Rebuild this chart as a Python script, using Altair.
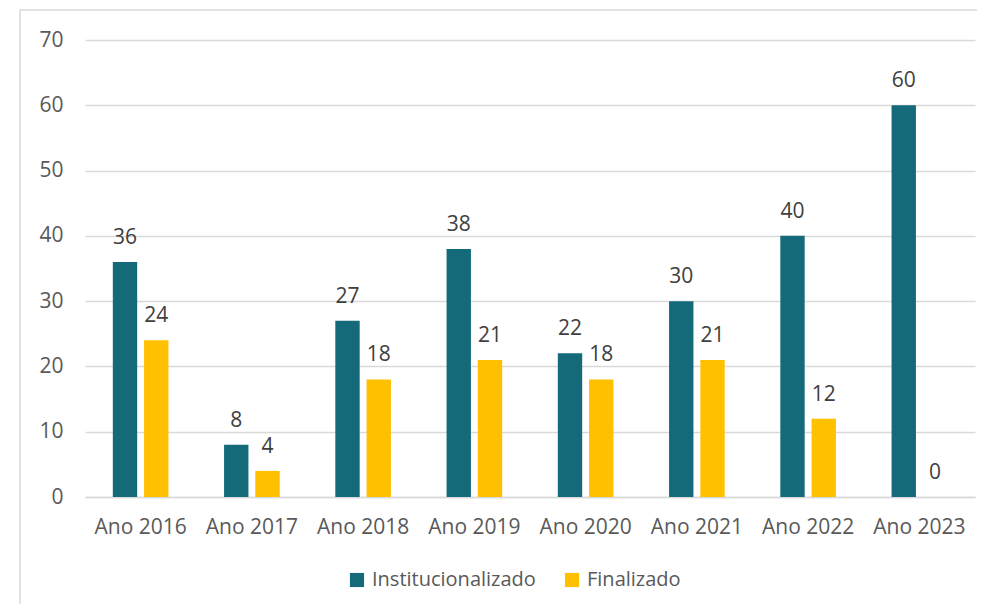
import altair as alt
import pandas as pd

categories = ["Ano 2016", "Ano 2017", "Ano 2018", "Ano 2019", "Ano 2020", "Ano 2021", "Ano 2022", "Ano 2023"]
institucionalizado = [36, 8, 27, 38, 22, 30, 40, 60]
finalizado = [24, 4, 18, 21, 18, 21, 12, 0]
series = ["Institucionalizado", "Finalizado"]
colors = ["#156A7A", "#FFC000"]

rows = []
for c, a, b in zip(categories, institucionalizado, finalizado):
    rows.append({"cat": c, "serie": series[0], "val": a})
    rows.append({"cat": c, "serie": series[1], "val": b})
df = pd.DataFrame(rows)

FONT = "Open Sans"
TXT = "#595959"
FS = 21

x = alt.X("cat:N", sort=categories, title=None,
          scale=alt.Scale(paddingInner=0.5, paddingOuter=0.25),
          axis=alt.Axis(labelAngle=0, labelFontSize=FS, labelFont=FONT, labelColor=TXT,
                        labelPadding=19, ticks=False, domain=True, domainColor="#d9d9d9",
                        domainWidth=1.5, grid=False))
xoff = alt.XOffset("serie:N", sort=series, scale=alt.Scale(paddingInner=0.22))
y = alt.Y("val:Q", title=None,
          scale=alt.Scale(domain=[0, 70], nice=False),
          axis=alt.Axis(values=list(range(0, 71, 10)), labelFontSize=FS, labelFont=FONT,
                        labelColor=TXT, labelPadding=22, ticks=False, domain=False,
                        grid=True, gridColor="#d9d9d9", gridWidth=1.5))
color = alt.Color("serie:N", sort=series, title=None,
                  scale=alt.Scale(domain=series, range=colors),
                  legend=alt.Legend(orient="none", legendX=262, legendY=530, direction="horizontal",
                                    symbolType="square", symbolSize=200, symbolStrokeWidth=0,
                                    labelFontSize=20, labelFont=FONT, labelColor=TXT, labelLimit=0,
                                    labelOffset=5, columnPadding=26))

frame = pd.DataFrame({"a": [0]})
top_line = alt.Chart(frame).mark_rule(color="#d9d9d9", strokeWidth=1.5).encode(
    x=alt.value(-65), x2=alt.value(1000), y=alt.value(-30))
left_line = alt.Chart(frame).mark_rule(color="#d9d9d9", strokeWidth=1.5).encode(
    x=alt.value(-65), y=alt.value(-30), y2=alt.value(620))

base = alt.Chart(df)
bars = base.mark_bar().encode(x=x, xOffset=xoff, y=y, color=color)
labels = base.mark_text(baseline="bottom", dy=-14, fontSize=FS, font=FONT, color="#404040").encode(
    x=alt.X("cat:N", sort=categories),
    xOffset=alt.XOffset("serie:N", sort=series),
    y="val:Q", text="val:Q")

chart = alt.layer(top_line, left_line, bars, labels).properties(
    width=890, height=457,
    autosize=alt.AutoSizeParams(type="none"),
    padding={"left": 77, "top": 32, "right": 2, "bottom": 107},
    background="white",
).configure_view(strokeWidth=0, stroke="transparent")

chart.save("out.html", embed_options={"renderer": "svg", "actions": False})
